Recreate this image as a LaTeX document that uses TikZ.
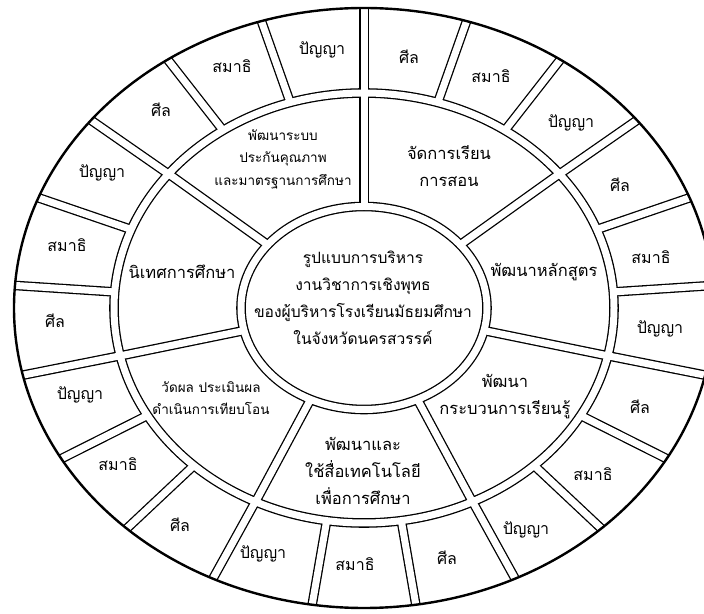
\documentclass[tikz,border=0pt]{standalone}
\usepackage{fontspec}
\newfontfamily\thaifont[Script=Thai]{Loma}
\tikzset{
  outerlbl/.style={font=\thaifont\fontsize{16}{18}\selectfont, inner sep=0pt, align=center},
  midlbl/.style={font=\thaifont\fontsize{16.5}{27}\selectfont, inner sep=0pt, align=center},
  midsmall/.style={font=\thaifont\fontsize{13.5}{22.5}\selectfont, inner sep=0pt, align=center},
  ctrlbl/.style={font=\thaifont\fontsize{15.6}{27}\selectfont, inner sep=0pt, align=center},
}
\begin{document}
\begin{tikzpicture}[x=1pt,y=1pt]
\useasboundingbox (0,0) rectangle (704,613);
\clip (0,0) rectangle (704,613);
\coordinate (c) at (364,305);
% bands and separators
\begin{scope}
  \clip (c) ellipse [x radius=349.5, y radius=299.5];
  \foreach \w/\col in {9.6pt/black, 7pt/white} {
    \draw[line width=\w, draw=\col] (c) ellipse [x radius=250, y radius=215];
    \draw[line width=\w, draw=\col] (c) ellipse [x radius=123, y radius=101.5];
    \foreach \k in {0,...,20} {
      \pgfmathsetmacro\t{90-\k*360/21}
      \draw[line width=\w, draw=\col] ({364+248*cos(\t)},{305+213*sin(\t)}) -- ({364+365*cos(\t)},{305+315*sin(\t)});
    }
    \foreach \k in {0,...,6} {
      \pgfmathsetmacro\t{90-\k*360/7}
      \draw[line width=\w, draw=\col] ({364+121*cos(\t)},{305+99.5*sin(\t)}) -- ({364+252*cos(\t)},{305+217*sin(\t)});
    }
  }
\end{scope}
\draw[line width=2.4pt] (c) ellipse [x radius=350, y radius=300];
% outer labels
\node[outerlbl] (o1) at (322,563) {ปัญญา};
\node[outerlbl] (o2) at (409,556) {ศีล};
\node[outerlbl] (o3) at (491,537) {สมาธิ};
\node[outerlbl] (o4) at (571,490) {ปัญญา};
\node[outerlbl] (o5) at (620,428) {ศีล};
\node[outerlbl] (o6) at (651,356) {สมาธิ};
\node[outerlbl] (o7) at (660,284) {ปัญญา};
\node[outerlbl] (o8) at (640,206) {ศีล};
\node[outerlbl] (o9) at (593,139) {สมาธิ};
\node[outerlbl] (o10) at (526,83) {ปัญญา};
\node[outerlbl] (o11) at (447,55) {ศีล};
\node[outerlbl] (o12) at (355,49) {สมาธิ};
\node[outerlbl] (o13) at (263,59) {ปัญญา};
\node[outerlbl] (o14) at (180,88) {ศีล};
\node[outerlbl] (o15) at (118,149) {สมาธิ};
\node[outerlbl] (o16) at (80,218) {ปัญญา};
\node[outerlbl] (o17) at (55,292) {ศีล};
\node[outerlbl] (o18) at (67,368) {สมาธิ};
\node[outerlbl] (o19) at (102,440) {ปัญญา};
\node[outerlbl] (o20) at (161,503) {ศีล};
\node[outerlbl] (o21) at (232,547) {สมาธิ};
% middle labels
\node[midsmall] (m1) at (283,454) {พัฒนาระบบ\\ประกันคุณภาพ\\และมาตรฐานการศึกษา};
\node[midlbl] (m2) at (449,447) {จัดการเรียน\\การสอน};
\node[midlbl] (m3) at (544,341) {พัฒนาหลักสูตร};
\node[midlbl] (m4) at (505,216) {พัฒนา\\กระบวนการเรียนรู้};
\node[midlbl] (m5) at (363,142) {พัฒนาและ\\ใช้สื่อเทคโนโลยี\\เพื่อการศึกษา};
\node[midsmall] (m6) at (211,215) {วัดผล ประเมินผล\\ดำเนินการเทียบโอน};
\node[midlbl] (m7) at (182,341) {นิเทศการศึกษา};
% centre
\node[ctrlbl] (ctr) at (363,315) {รูปแบบการบริหาร\\งานวิชาการเชิงพุทธ\\ของผู้บริหารโรงเรียนมัธยมศึกษา\\ในจังหวัดนครสวรรค์};
\end{tikzpicture}
\end{document}
